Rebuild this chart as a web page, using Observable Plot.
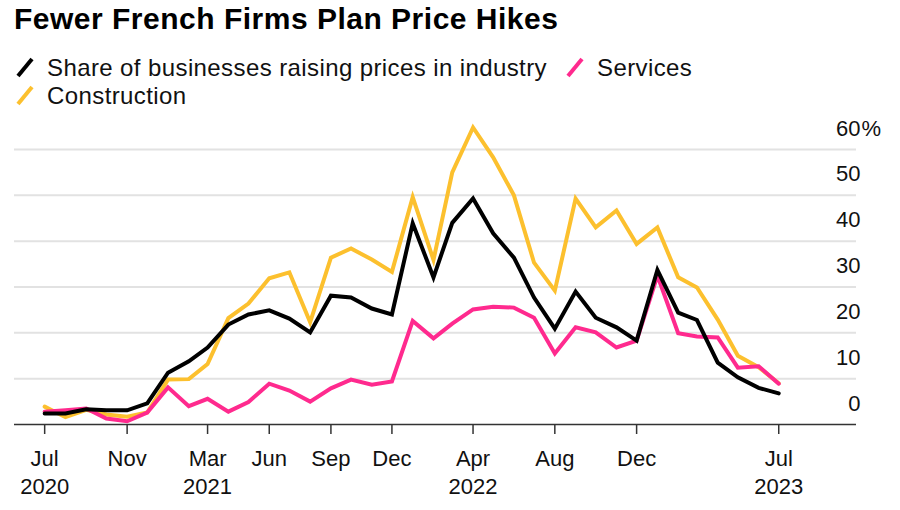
<!DOCTYPE html>
<html>
<head>
<meta charset="utf-8">
<script src="https://cdn.jsdelivr.net/npm/d3@7"></script>
<script src="https://cdn.jsdelivr.net/npm/@observablehq/plot@0.6"></script>
<style>
  html, body { margin: 0; padding: 0; background: #fff; }
  body { width: 900px; height: 510px; position: relative; overflow: hidden;
         font-family: "Liberation Sans", Arial, Helvetica, sans-serif; color: #111; }
  #title { position: absolute; left: 14px; top: 4px; font-size: 30px; font-weight: bold;
           line-height: 1; letter-spacing: 0.5px; color: #000; white-space: nowrap; }
  .leg { position: absolute; font-size: 24px; line-height: 28px; height: 28px;
         letter-spacing: 0.4px; white-space: nowrap; color: #111; }
  .sw { position: absolute; }
  #chart { position: absolute; left: 0; top: 115px; }
</style>
</head>
<body>
<div id="title">Fewer French Firms Plan Price Hikes</div>
<div id="legend"></div>
<div id="chart"></div>
<script>
// ---- data ----
const seriesNames = ["Construction", "Services", "Share of businesses raising prices in industry"];
const seriesColors = ["#fcc02e", "#ff2a8e", "#000000"];

const startMonth = new Date(Date.UTC(2020, 6, 1));   // Jul 2020
const endMonth = new Date(Date.UTC(2023, 7, 1));     // exclusive (Aug 2023)
const months = d3.utcMonth.range(startMonth, endMonth); // 37 monthly points

const industry = [2.4, 2.4, 3.3, 3.1, 3.1, 4.6, 11.3, 13.8, 16.8, 21.8, 24.0, 24.9, 23.1, 20.1, 28.1, 27.7, 25.3, 24.0,
  43.9, 32.1, 44.0, 49.3, 41.7, 36.4, 27.7, 20.9, 29.0, 23.3, 21.2, 18.3, 33.7, 24.4, 22.8, 13.5, 10.3, 8.0, 6.8];
const services = [2.8, 3.1, 3.5, 1.3, 0.7, 2.6, 8.1, 4.0, 5.6, 2.8, 4.9, 8.9, 7.4, 5.0, 7.9, 9.8, 8.7, 9.4,
  22.6, 18.8, 22.0, 25.1, 25.7, 25.5, 23.3, 15.5, 21.2, 20.1, 16.8, 18.3, 32.5, 19.9, 19.2, 19.0, 12.4, 12.7, 8.9];
const construction = [3.9, 1.6, 3.2, 2.2, 1.7, 2.6, 9.8, 9.9, 13.2, 23.2, 26.4, 31.9, 33.2, 22.3, 36.4, 38.4, 36.0, 33.3,
  49.6, 35.9, 55.0, 64.8, 58.3, 50.0, 35.3, 29.2, 49.3, 43.0, 46.7, 39.4, 43.0, 32.1, 29.9, 22.9, 15.0, 12.5, 9.0];

const yTicks = [0, 10, 20, 30, 40, 50, 60];
const xTickDates = [
  [2020, 6], [2020, 10], [2021, 2], [2021, 5], [2021, 8], [2021, 11],
  [2022, 3], [2022, 7], [2022, 11], [2023, 6]
].map(([y, m]) => new Date(Date.UTC(y, m, 1)));
const xTickLabels = ["Jul\n2020", "Nov", "Mar\n2021", "Jun", "Sep", "Dec", "Apr\n2022", "Aug", "Dec", "Jul\n2023"];

// ---- long table ----
const valuesBySeries = [construction, services, industry];
const rows = [];
seriesNames.forEach((name, si) => {
  months.forEach((date, i) => rows.push({series: name, date, value: valuesBySeries[si][i]}));
});

// ---- legend ----
const legendItems = [
  {name: seriesNames[2], color: seriesColors[2], left: 14, top: 54},
  {name: seriesNames[1], color: seriesColors[1], left: 564, top: 54},
  {name: seriesNames[0], color: seriesColors[0], left: 14, top: 82}
];
const legend = document.getElementById("legend");
legendItems.forEach(it => {
  const sw = document.createElementNS("http://www.w3.org/2000/svg", "svg");
  sw.setAttribute("class", "sw");
  sw.setAttribute("width", 24);
  sw.setAttribute("height", 24);
  sw.style.left = it.left + "px";
  sw.style.top = (it.top + 2) + "px";
  const ln = document.createElementNS("http://www.w3.org/2000/svg", "line");
  ln.setAttribute("x1", 4); ln.setAttribute("y1", 20);
  ln.setAttribute("x2", 18); ln.setAttribute("y2", 3);
  ln.setAttribute("stroke", it.color);
  ln.setAttribute("stroke-width", 4);
  sw.appendChild(ln);
  legend.appendChild(sw);
  const t = document.createElement("div");
  t.className = "leg";
  t.style.left = (it.left + 33) + "px";
  t.style.top = it.top + "px";
  t.textContent = it.name;
  legend.appendChild(t);
});

// ---- chart ----
const fmtTick = d => {
  const i = xTickDates.findIndex(t => +t === +d);
  return i >= 0 ? xTickLabels[i] : "";
};

const chart = Plot.plot({
  width: 900,
  height: 395,
  marginLeft: 14,
  marginRight: 44,
  marginTop: 34,
  marginBottom: 86,
  style: {fontFamily: "'Liberation Sans', Arial, Helvetica, sans-serif", color: "#111", background: "transparent"},
  x: {type: "utc", domain: [new Date(Date.UTC(2020, 4, 17)), new Date(Date.UTC(2023, 9, 25))]},
  y: {domain: [0, 60]},
  color: {domain: seriesNames, range: seriesColors},
  marks: [
    Plot.ruleY(yTicks.filter(d => d > 0), {stroke: "#e2e2e2", strokeWidth: 2}),
    Plot.ruleY([0], {stroke: "#333", strokeWidth: 1.5}),
    Plot.axisX({ticks: xTickDates, tickFormat: fmtTick, tickSize: 10, tickPadding: 12,
                fontSize: 22, lineHeight: 1.27, stroke: "#333", strokeWidth: 1.5, label: null}),
    Plot.axisY({ticks: [], label: null}),
    Plot.text(yTicks, {y: d => d, text: d => String(d), frameAnchor: "right", textAnchor: "end",
                       dx: 4, dy: -21, fontSize: 22, fill: "#111"}),
    Plot.text([60], {y: d => d, text: () => "%", frameAnchor: "right", textAnchor: "start",
                     dx: 5, dy: -21, fontSize: 22, fill: "#111"}),
    Plot.line(rows, {x: "date", y: "value", z: "series", stroke: "series",
                     strokeWidth: 4, strokeLinejoin: "miter", strokeMiterlimit: 4, strokeLinecap: "round"})
  ]
});
document.getElementById("chart").appendChild(chart);
</script>
</body>
</html>
